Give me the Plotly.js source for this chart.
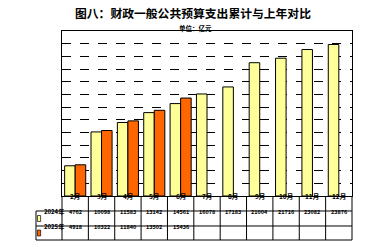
<!DOCTYPE html>
<html><head><meta charset="utf-8">
<script src="https://cdn.plot.ly/plotly-3.0.1.min.js"></script>
<style>html,body{margin:0;padding:0;background:#fff}#c{width:386px;height:248px}</style>
</head><body><div id="c"></div>
<script>
var months = ['2月','3月','4月','5月','6月','7月','8月','9月','10月','11月','12月'];
var seriesNames = ['2024年','2025年'];
var v2024 = [4762, 10098, 11583, 13142, 14561, 16078, 17183, 21004, 21716, 23082, 23876];
var v2025 = [4918, 10322, 11840, 13502, 15436, null, null, null, null, null, null];
var colors = ['#FFFF99','#FF6600'];
var titleText = '图八：财政一般公共预算支出累计与上年对比';
var unitText = '单位：亿元';

var FONT = '"Noto Sans CJK SC", "Noto Sans", sans-serif';
var traces = [
  {type:'bar', name:seriesNames[0], x:months, y:v2024,
   marker:{color:colors[0], line:{color:'#000', width:1}}},
  {type:'bar', name:seriesNames[1], x:months, y:v2025,
   marker:{color:colors[1], line:{color:'#000', width:1}}}
];

// table geometry (paper coords)
var rowY = [0, -0.0909, -0.1818, -0.2667];
var leftX = -0.0897;
var n = months.length;
var shapes = [], ann = [];
function line(x0,y0,x1,y1){shapes.push({type:'line',xref:'paper',yref:'paper',x0:x0,y0:y0,x1:x1,y1:y1,line:{color:'#000',width:1}});}
line(leftX,rowY[1],1,rowY[1]);
line(leftX,rowY[2],1,rowY[2]);
line(leftX,rowY[3],1,rowY[3]);
line(leftX,rowY[1],leftX,rowY[3]);
for (var i=0;i<=n;i++){ line(i/n,0,i/n,rowY[3]); }
var rows = [v2024, v2025];
for (var i=0;i<n;i++){
  ann.push({xref:'x',yref:'paper',x:months[i],y:(rowY[0]+rowY[1])/2,text:'<b>'+months[i]+'</b>',showarrow:false,font:{size:6.5,color:'#000',family:FONT}});
  for (var r=0;r<2;r++){
    var val = rows[r][i];
    if (val!==null) ann.push({xref:'x',yref:'paper',x:months[i],y:(rowY[r+1]+rowY[r+2])/2,text:'<b>'+val+'</b>',showarrow:false,font:{size:5.5,color:'#000',family:FONT}});
  }
}
for (var r=0;r<2;r++){
  var yc=(rowY[r+1]+rowY[r+2])/2;
  shapes.push({type:'rect',xref:'paper',yref:'paper',x0:leftX+0.005,x1:leftX+0.016,y0:yc-0.018,y1:yc+0.018,fillcolor:colors[r],line:{color:'#000',width:0.7}});
  ann.push({xref:'paper',yref:'paper',x:leftX+0.022,y:yc,xanchor:'left',text:'<b>'+seriesNames[r]+'</b>',showarrow:false,font:{size:6,color:'#000',family:FONT}});
}
ann.push({xref:'paper',yref:'paper',x:0.459,y:1.018,yanchor:'middle',text:'<b>'+unitText+'</b>',showarrow:false,font:{size:6.5,color:'#000',family:FONT}});

var layout = {
  width:386, height:248,
  margin:{l:62,r:34,t:31,b:52},
  paper_bgcolor:'#fff', plot_bgcolor:'#fff',
  title:{text:'<b>'+titleText+'</b>', x:0.5, xanchor:'center', y:0.945, yanchor:'middle', font:{size:11.8,color:'#000',family:FONT}},
  showlegend:false,
  barmode:'group', bargap:0.2, bargroupgap:0,
  xaxis:{type:'category', showticklabels:false, ticks:'', showline:true, linecolor:'#000', linewidth:1, mirror:true, showgrid:false, fixedrange:true},
  yaxis:{range:[0,26000], dtick:2000, showticklabels:false, ticks:'', showgrid:true, gridcolor:'#000', griddash:'dash', gridwidth:1, showline:true, linecolor:'#000', linewidth:1, mirror:true, zeroline:false},
  shapes:shapes, annotations:ann
};
Plotly.newPlot('c', traces, layout, {displayModeBar:false, staticPlot:true});
</script></body></html>
